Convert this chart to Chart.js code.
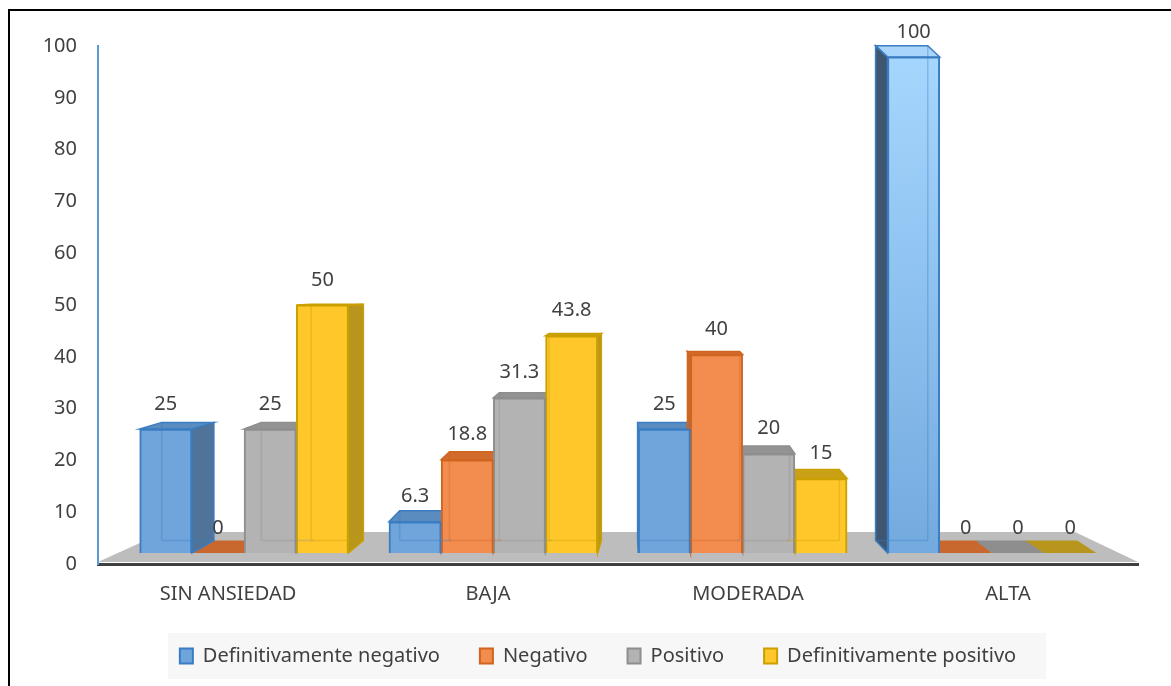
<!DOCTYPE html>
<html>
<head>
<meta charset="utf-8">
<script src="https://cdn.jsdelivr.net/npm/chart.js@4.4.0/dist/chart.umd.min.js"></script>
<style>
  html, body { margin: 0; padding: 0; background: #fff; }
  #wrap { position: relative; width: 1171px; height: 686px; overflow: hidden; }
  #frame { position: absolute; left: 8px; top: 9px; width: 1300px; height: 800px;
           border-top: 2px solid #000; border-left: 2px solid #000; }
  canvas { position: absolute; left: 0; top: 0; }
</style>
</head>
<body>
<div id="wrap">
  <div id="frame"></div>
  <canvas id="chart" width="1171" height="686"></canvas>
</div>
<script>
// ===== Datos =====
const categorias  = ['SIN ANSIEDAD', 'BAJA', 'MODERADA', 'ALTA'];
const defNegativo = [25, 6.3, 25, 100];
const negativo    = [0, 18.8, 40, 0];
const positivo    = [25, 31.3, 20, 0];
const defPositivo = [50, 43.8, 15, 0];
const series      = ['Definitivamente negativo', 'Negativo', 'Positivo', 'Definitivamente positivo'];

// ===== Estilos =====
const FONT = 'Noto Sans';
const TXT  = '#404040';
const estilos = [
  { fondo: '#6fa5da', borde: '#3a7dc2', lado: '#4f7399', arriba: '#5a8cc0' },
  { fondo: '#f28d4f', borde: '#cf651f', lado: '#c8682e', arriba: '#d36b2c' },
  { fondo: '#b3b3b3', borde: '#8e8e8e', lado: '#8e8e8e', arriba: '#939393' },
  { fondo: '#ffc72a', borde: '#c9a000', lado: '#b8951c', arriba: '#caa016' }
];
// barra resaltada (ALTA, def. negativo) con degradado
const resaltada = { serie: 0, indice: 3, fondo: '#93c6f4', lado: '#3f5670', arriba: '#a9d4fb',
                    grad: ['#a6d7fe', '#72a9de'] };

// parámetros de la perspectiva 3D (en unidades de los ejes)
const NIVEL_OJO = 52.6;
const FUGA_X    = 1.63;
const K_DX = 0.0454, K_DY = 0.048;

const estiloDe = (ds, i) => {
  const e = estilos[ds];
  if (ds === resaltada.serie && i === resaltada.indice) return { ...e, ...resaltada };
  return e;
};

function fondoBarra(ctx, ds) {
  const e = estiloDe(ds, ctx.dataIndex ?? 0);
  const ca = ctx.chart.chartArea;
  if (!e.grad || !ca) return e.fondo;
  const g = ctx.chart.ctx.createLinearGradient(0, ca.top, 0, ca.bottom);
  g.addColorStop(0, e.grad[0]);
  g.addColorStop(1, e.grad[1]);
  return g;
}

function geom(chart, el) {
  const xs = chart.scales.xb, ys = chart.scales.yb;
  const vx  = xs.getPixelForValue(FUGA_X);
  const ojo = ys.getPixelForValue(NIVEL_OJO);
  const w = el.width;
  return {
    x0: el.x - w / 2, x1: el.x + w / 2,
    top: el.y, base: el.base,
    dx: -K_DX * (el.x - vx),
    dyTop: -Math.abs(el.y - ojo) * K_DY,
    dyBase: -Math.abs(el.base - ojo) * K_DY
  };
}

function poly(ctx, pts, fill, stroke) {
  ctx.beginPath();
  ctx.moveTo(pts[0][0], pts[0][1]);
  for (let k = 1; k < pts.length; k++) ctx.lineTo(pts[k][0], pts[k][1]);
  ctx.closePath();
  ctx.fillStyle = fill;
  ctx.fill();
  if (stroke) { ctx.strokeStyle = stroke; ctx.lineWidth = 1.5; ctx.stroke(); }
}

// ===== Plugin: piso, caras laterales, etiquetas =====
const barras3d = {
  id: 'barras3d',
  beforeDraw(chart) {
    // fondo de la leyenda
    const hb = chart.legend && chart.legend.legendHitBoxes;
    if (!hb || !hb.length) return;
    const l = Math.min(...hb.map(h => h.left));
    const r = Math.max(...hb.map(h => h.left + h.width));
    const cy = hb[0].top + hb[0].height / 2;
    const ctx = chart.ctx;
    ctx.save();
    ctx.fillStyle = '#f7f7f7';
    ctx.fillRect(l - 12, cy - 23, r - l + 42, 46);
    ctx.restore();
  },
  beforeDatasetsDraw(chart) {
    const ctx = chart.ctx;
    const ca = chart.chartArea;
    const base = chart.scales.yb.getPixelForValue(0);
    ctx.save();
    // piso
    poly(ctx, [
      [ca.left, ca.bottom - 2], [ca.right, ca.bottom - 2],
      [ca.right - 63, base - 21], [ca.left + 66, base - 21]
    ], '#bdbdbd');

    const metas = chart.getSortedVisibleDatasetMetas();
    // barras en cero: solo la cara superior sobre el piso
    metas.forEach(m => m.data.forEach((el, i) => {
      if (chart.data.datasets[m.index].data[i].y !== 0) return;
      const g = geom(chart, el), e = estiloDe(m.index, i);
      poly(ctx, [[g.x0, g.base], [g.x1, g.base],
                 [g.x1 + g.dx, g.base + g.dyBase], [g.x0 + g.dx, g.base + g.dyBase]], e.lado);
    }));
    // caras laterales y superiores
    metas.forEach(m => m.data.forEach((el, i) => {
      if (chart.data.datasets[m.index].data[i].y === 0) return;
      const g = geom(chart, el), e = estiloDe(m.index, i);
      const xe = g.dx > 0 ? g.x1 : g.x0;
      poly(ctx, [[xe, g.top], [xe + g.dx, g.top + g.dyTop],
                 [xe + g.dx, g.base + g.dyBase], [xe, g.base]], e.lado, e.borde);
      poly(ctx, [[g.x0, g.top], [g.x1, g.top],
                 [g.x1 + g.dx, g.top + g.dyTop], [g.x0 + g.dx, g.top + g.dyTop]], e.arriba, e.borde);
    }));
    ctx.restore();
  },
  afterDatasetsDraw(chart) {
    const ctx = chart.ctx;
    ctx.save();
    const metas = chart.getSortedVisibleDatasetMetas();
    // aristas traseras vistas a través de la cara frontal
    ctx.globalAlpha = 0.35;
    metas.forEach(m => m.data.forEach((el, i) => {
      if (chart.data.datasets[m.index].data[i].y === 0) return;
      const g = geom(chart, el), e = estiloDe(m.index, i);
      const xb = g.dx > 0 ? g.x0 + g.dx : g.x1 + g.dx;
      ctx.strokeStyle = e.borde;
      ctx.lineWidth = 1.5;
      ctx.beginPath();
      ctx.moveTo(xb, g.top + g.dyTop);
      ctx.lineTo(xb, g.base + g.dyBase);
      ctx.moveTo(g.x0 + g.dx, g.base + g.dyBase);
      ctx.lineTo(g.x1 + g.dx, g.base + g.dyBase);
      ctx.stroke();
    }));
    ctx.globalAlpha = 1;
    // etiquetas de valor
    ctx.font = '20px "' + FONT + '"';
    ctx.fillStyle = TXT;
    ctx.textAlign = 'center';
    ctx.textBaseline = 'middle';
    metas.forEach(m => m.data.forEach((el, i) => {
      const v = chart.data.datasets[m.index].data[i].y;
      ctx.fillText(String(v), el.x, el.y - 25);
    }));
    ctx.restore();
  }
};

// ===== Gráfico =====
const valores = [defNegativo, negativo, positivo, defPositivo];

new Chart(document.getElementById('chart'), {
  type: 'bar',
  data: {
    labels: categorias,
    datasets: valores.map((vals, ds) => ({
      label: series[ds],
      data: vals.map((v, i) => ({ x: i, y: v })),
      xAxisID: 'xb',
      yAxisID: 'yb',
      backgroundColor: ctx => fondoBarra(ctx, ds),
      borderColor: estilos[ds].borde,
      borderWidth: 2,
      barThickness: 52.2
    }))
  },
  options: {
    responsive: false,
    animation: false,
    layout: { padding: { left: 36, right: 11, top: 46, bottom: 10 } },
    scales: {
      x: {
        type: 'category', position: 'bottom', offset: true,
        grid: { display: false, drawTicks: false },
        border: { display: true, color: '#3f3f3f', width: 3 },
        ticks: { font: { family: FONT, size: 20 }, color: TXT, padding: 18 },
        afterFit: s => { s.height = 42; }
      },
      xb: { type: 'linear', axis: 'x', display: false, offset: false, min: -0.586, max: 3.586 },
      y: {
        type: 'linear', min: 0, max: 100,
        grid: { display: false, drawTicks: false },
        border: { display: true, color: '#5b9bd5', width: 2 },
        ticks: { stepSize: 10, font: { family: FONT, size: 20 }, color: TXT, padding: 21 },
        afterFit: s => { s.width = 62; }
      },
      // caja vacía a la derecha para centrar la leyenda
      yr: {
        type: 'linear', axis: 'y', position: 'right',
        grid: { display: false, drawTicks: false },
        border: { display: false },
        ticks: { display: false },
        afterFit: s => { s.width = 22; }
      },
      yb: { type: 'linear', axis: 'y', display: false, min: -2.22, max: 102.2 }
    },
    plugins: {
      tooltip: { enabled: false },
      legend: {
        position: 'bottom',
        labels: {
          boxWidth: 13, boxHeight: 15, padding: 40,
          font: { family: FONT, size: 20 }, color: TXT
        }
      }
    }
  },
  plugins: [barras3d]
});
</script>
</body>
</html>
